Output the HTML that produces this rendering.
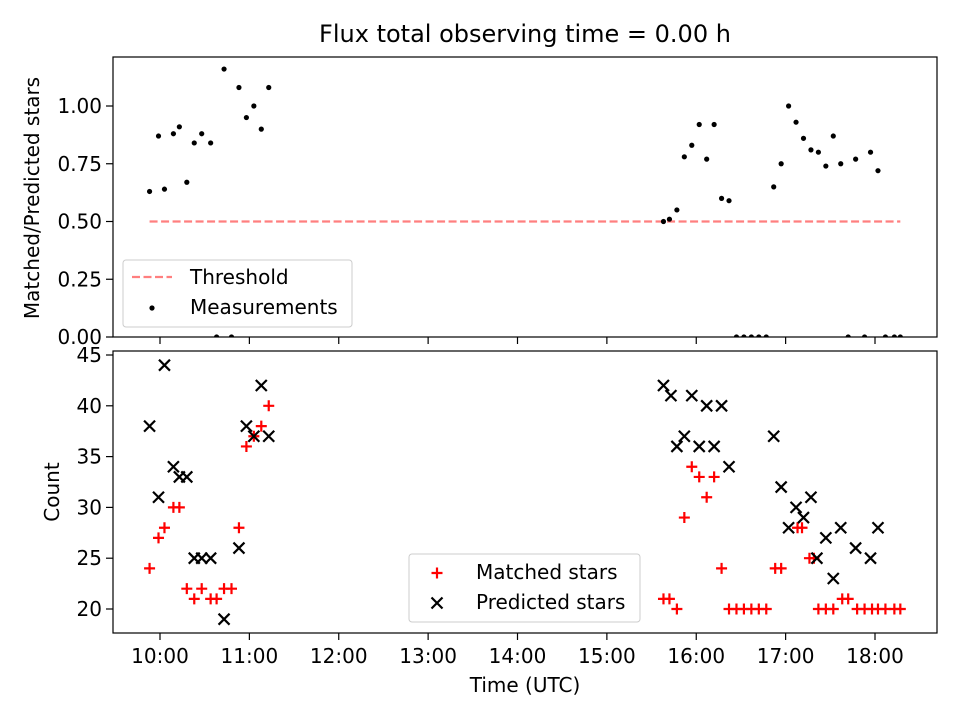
<!DOCTYPE html>
<html><head><meta charset="utf-8"><style>
body{margin:0;background:#fff}
svg text{font-family:"DejaVu Sans","Liberation Sans",sans-serif;fill:#000}
</style></head><body>
<svg id="chart" width="960" height="720" xmlns="http://www.w3.org/2000/svg"></svg>
<script>
const ratioTimes=["9:53","9:59","10:03","10:09","10:13","10:18","10:23","10:28","10:34","10:38","10:43","10:48","10:53","10:58","11:03","11:08","11:13","15:38","15:42","15:47","15:52","15:57","16:02","16:07","16:12","16:17","16:22","16:27","16:32","16:37","16:42","16:47","16:52","16:57","17:02","17:07","17:12","17:17","17:22","17:27","17:32","17:37","17:42","17:47","17:53","17:57","18:02","18:07","18:13","18:17"];
const ratios=[0.63,0.87,0.64,0.88,0.91,0.67,0.84,0.88,0.84,0,1.16,0,1.08,0.95,1.00,0.90,1.08,0.50,0.51,0.55,0.78,0.83,0.92,0.77,0.92,0.60,0.59,0,0,0,0,0,0.65,0.75,1.00,0.93,0.86,0.81,0.80,0.74,0.87,0.75,0,0.77,0,0.80,0.72,0,0,0];
const matchedTimes=["9:53","9:59","10:03","10:09","10:13","10:18","10:23","10:28","10:34","10:38","10:43","10:48","10:53","10:58","11:03","11:08","11:13","15:38","15:42","15:47","15:52","15:57","16:02","16:07","16:12","16:17","16:22","16:27","16:32","16:37","16:42","16:47","16:53","16:57","17:08","17:11","17:16","17:19","17:22","17:27","17:32","17:38","17:42","17:48","17:53","17:58","18:02","18:07","18:13","18:17"];
const matched=[24,27,28,30,30,22,21,22,21,21,22,22,28,36,37,38,40,21,21,20,29,34,33,31,33,24,20,20,20,20,20,20,24,24,28,28,25,25,20,20,20,21,21,20,20,20,20,20,20,20];
const predTimes=["9:53","9:59","10:03","10:09","10:13","10:18","10:23","10:28","10:34","10:43","10:53","10:58","11:03","11:08","11:13","15:38","15:43","15:47","15:52","15:57","16:02","16:07","16:12","16:17","16:22","16:52","16:57","17:02","17:07","17:12","17:17","17:21","17:27","17:32","17:37","17:47","17:57","18:02"];
const predicted=[38,31,44,34,33,33,25,25,25,19,26,38,37,42,37,42,41,36,37,41,36,40,36,40,34,37,32,28,30,29,31,25,27,23,28,26,25,28];
const xTicks=["10:00","11:00","12:00","13:00","14:00","15:00","16:00","17:00","18:00"];
const topTicks=[0,0.25,0.5,0.75,1.0];
const botTicks=[20,25,30,35,40,45];
const threshold=0.5, thrStart="9:53", thrEnd="18:17";

const NS="http://www.w3.org/2000/svg", svg=document.getElementById('chart');
function mk(t,a,p){const e=document.createElementNS(NS,t);for(const k in a)e.setAttribute(k,a[k]);(p||svg).appendChild(e);return e;}
const hrs=s=>{const[a,b]=s.split(':').map(Number);return a+b/60;};
const X0=113,X1=937,hMin=10-47/89.375,hMax=10+777/89.375;
const xs=h=>X0+(h-hMin)/(hMax-hMin)*(X1-X0);
const T0=57,T1=337,yt=v=>337-v*231;
const B0=351,B1=633,yb=v=>609-(v-20)*10.16;
const FS=20, TL=7;

const title=mk('text',{x:525,y:42,'font-size':24,'text-anchor':'middle'});title.textContent="Flux total observing time = 0.00 h";


const gt=mk('g',{});
mk('rect',{x:X0,y:T0,width:X1-X0,height:T1-T0,fill:'none',stroke:'#000','stroke-width':1.2},gt);
topTicks.forEach(v=>{const y=yt(v);mk('line',{x1:X0-TL,x2:X0,y1:y,y2:y,stroke:'#000','stroke-width':1.2},gt);
 const t=mk('text',{x:X0-11,y:y+7,'font-size':FS,'text-anchor':'end'},gt);t.textContent=v.toFixed(2);
 });
xTicks.forEach(s=>{const x=xs(hrs(s));mk('line',{x1:x,x2:x,y1:T1,y2:T1+TL,stroke:'#000','stroke-width':1.2},gt);});
const yl1=mk('text',{x:0,y:0,'font-size':FS,'text-anchor':'middle',transform:`translate(39,${(T0+T1)/2+1}) rotate(-90)`},gt);yl1.textContent="Matched/Predicted stars";

const th=mk('line',{x1:xs(hrs(thrStart)),x2:xs(hrs(thrEnd)),y1:yt(threshold),y2:yt(threshold),stroke:'#ff7f7f','stroke-width':2.2,'stroke-dasharray':'8,3.5'},gt);

const clipT=mk('clipPath',{id:'ct'});mk('rect',{x:X0,y:T0-5,width:X1-X0,height:T1-T0+5},clipT);
const gd=mk('g',{'clip-path':'url(#ct)'},gt);
ratioTimes.forEach((s,i)=>{const c=mk('circle',{cx:xs(hrs(s)),cy:yt(ratios[i]),r:2.6,fill:'#000'},gd);
 });
const lg1=mk('g',{});
mk('rect',{x:123,y:260,width:229,height:67,rx:3,fill:'#fff','fill-opacity':0.8,stroke:'#ccc'},lg1);
mk('line',{x1:132,x2:172,y1:277,y2:277,stroke:'#ff7f7f','stroke-width':2.2,'stroke-dasharray':'8,3.5'},lg1);
let t=mk('text',{x:190,y:284,'font-size':FS},lg1);t.textContent="Threshold";
mk('circle',{cx:152,cy:308,r:2.6,fill:'#000'},lg1);
t=mk('text',{x:190,y:314,'font-size':FS},lg1);t.textContent="Measurements";

const gb=mk('g',{});
mk('rect',{x:X0,y:B0,width:X1-X0,height:B1-B0,fill:'none',stroke:'#000','stroke-width':1.2},gb);
botTicks.forEach(v=>{const y=yb(v);mk('line',{x1:X0-TL,x2:X0,y1:y,y2:y,stroke:'#000','stroke-width':1.2},gb);
 const t=mk('text',{x:X0-11,y:y+7,'font-size':FS,'text-anchor':'end'},gb);t.textContent=v;
 });
xTicks.forEach(s=>{const x=xs(hrs(s));mk('line',{x1:x,x2:x,y1:B1,y2:B1+TL,stroke:'#000','stroke-width':1.2},gb);
 const t=mk('text',{x:x,y:663,'font-size':FS,'text-anchor':'middle'},gb);t.textContent=s;
 });
const yl2=mk('text',{x:0,y:0,'font-size':FS,'text-anchor':'middle',transform:`translate(59,${(B0+B1)/2}) rotate(-90)`},gb);yl2.textContent="Count";

const xl=mk('text',{x:525,y:692,'font-size':FS,'text-anchor':'middle'},gb);xl.textContent="Time (UTC)";

function plus(x,y,p){return mk('path',{d:`M${x-5.5} ${y}H${x+5.5}M${x} ${y-5.5}V${y+5.5}`,stroke:'#f00','stroke-width':2.2,fill:'none'},p);}
function cross(x,y,p){return mk('path',{d:`M${x-5.5} ${y-5.5}L${x+5.5} ${y+5.5}M${x-5.5} ${y+5.5}L${x+5.5} ${y-5.5}`,stroke:'#000','stroke-width':2.2,fill:'none'},p);}
matchedTimes.forEach((s,i)=>{const e=plus(xs(hrs(s)),yb(matched[i]),gb);
 });
predTimes.forEach((s,i)=>{const e=cross(xs(hrs(s)),yb(predicted[i]),gb);
 });
const lg2=mk('g',{});
mk('rect',{x:409,y:554,width:231,height:68,rx:3,fill:'#fff','fill-opacity':0.8,stroke:'#ccc'},lg2);
plus(437,573,lg2);t=mk('text',{x:476,y:579,'font-size':FS},lg2);t.textContent="Matched stars";
cross(437,603,lg2);t=mk('text',{x:476,y:609,'font-size':FS},lg2);t.textContent="Predicted stars";
</script>
</body></html>
